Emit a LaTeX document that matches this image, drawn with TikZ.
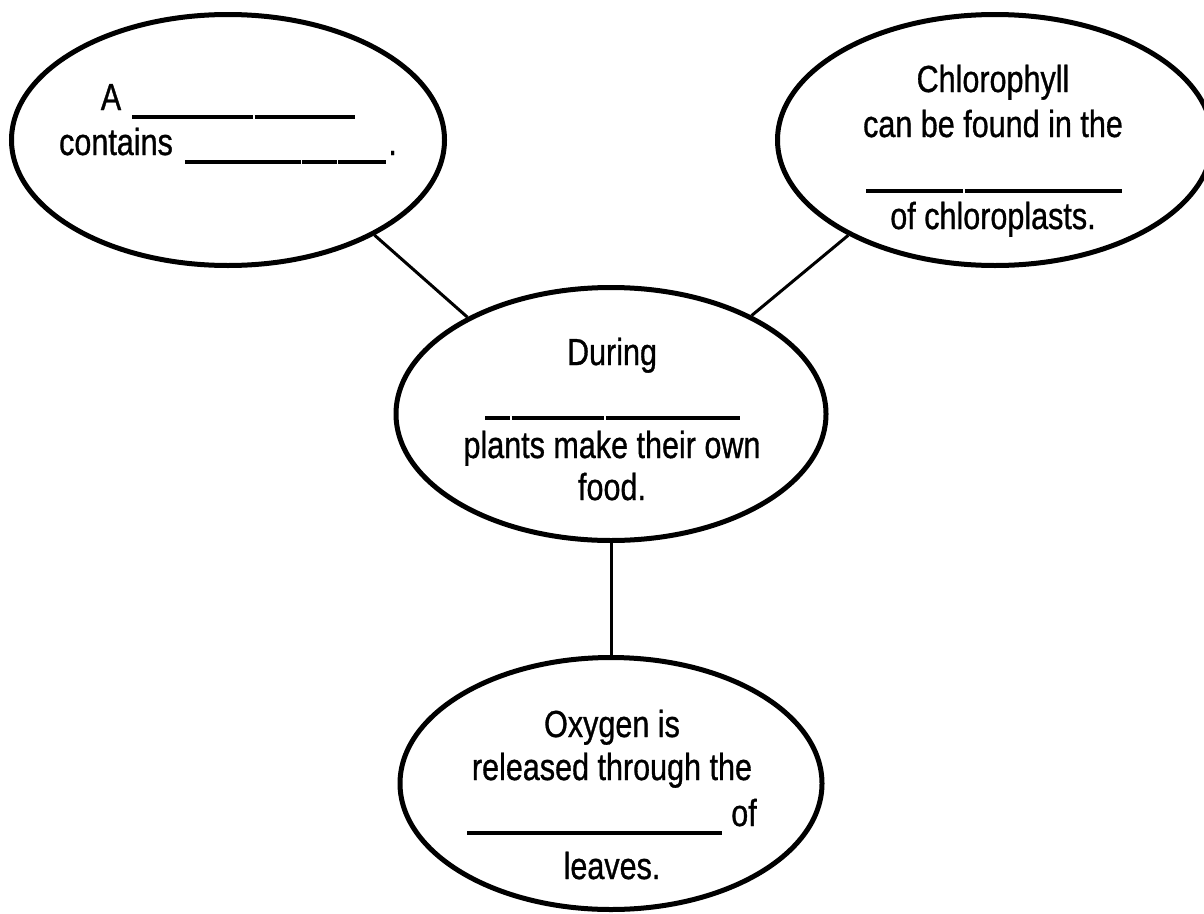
\documentclass[tikz,border=0pt]{standalone}
\usepackage{fontspec}
\setmainfont{Liberation Sans}[FakeStretch=0.81, FakeBold=0.8]
\usetikzlibrary{shapes.geometric}

% one stroke of a fill-in blank, and the hairline nick between strokes
\newcommand{\seg}[1]{\rule[-8.7pt]{#1}{3.3pt}}
\newcommand{\nick}{\hspace{1.5pt}}

\tikzset{
  bubble/.style={draw, ellipse, line width=5pt, inner sep=0pt},
  conn/.style={line width=3pt},
  txt/.style={anchor=base, inner sep=0pt, font=\fontsize{37.7pt}{44pt}\selectfont}
}

\begin{document}
\begin{tikzpicture}[x=1pt, y=-1pt]
\useasboundingbox (0,0) rectangle (1204,913);

% the four bubbles
\node[bubble, minimum width=433pt, minimum height=251pt] (tl)  at (228,140) {};
\node[bubble, minimum width=435pt, minimum height=251pt] (tr)  at (995,140) {};
\node[bubble, minimum width=430pt, minimum height=253pt] (mid) at (611,414) {};
\node[bubble, minimum width=422pt, minimum height=252pt] (bot) at (611,783.5) {};

% connectors
\draw[conn] (tl.-33) -- (mid.146);
\draw[conn] (tr.213) -- (mid.35);
\draw[conn] (mid.south) -- (bot.north);

% top left
\node[txt] (tl1) at (228,110) {A\hspace{11pt}\seg{121pt}\nick\seg{100.5pt}};
\node[txt] (tl2) at (228,155) {contains\hspace{12pt}\seg{116pt}\nick\seg{34.5pt}\nick\seg{48pt}\hspace{2pt}.};

% top right
\node[txt] (tr1) at (993,92)  {Chlorophyll};
\node[txt] (tr2) at (993,137) {can be found in the};
\node[txt] (tr3) at (994,184) {\seg{97pt}\nick\seg{157.5pt}};
\node[txt] (tr4) at (993,229) {of chloroplasts.};

% middle
\node[txt] (m1) at (612,365)   {During};
\node[txt] (m2) at (612.5,411) {\seg{25pt}\nick\seg{92.5pt}\nick\seg{134.5pt}};
\node[txt] (m3) at (612,458)   {plants make their own};
\node[txt] (m4) at (612,500)   {food.};

% bottom
\node[txt] (b1) at (612,737) {Oxygen is};
\node[txt] (b2) at (612,780) {released through the};
\node[txt] (b3) at (612,826) {\seg{255pt}\hspace{9pt}of};
\node[txt] (b4) at (612,879) {leaves.};
\end{tikzpicture}
\end{document}
